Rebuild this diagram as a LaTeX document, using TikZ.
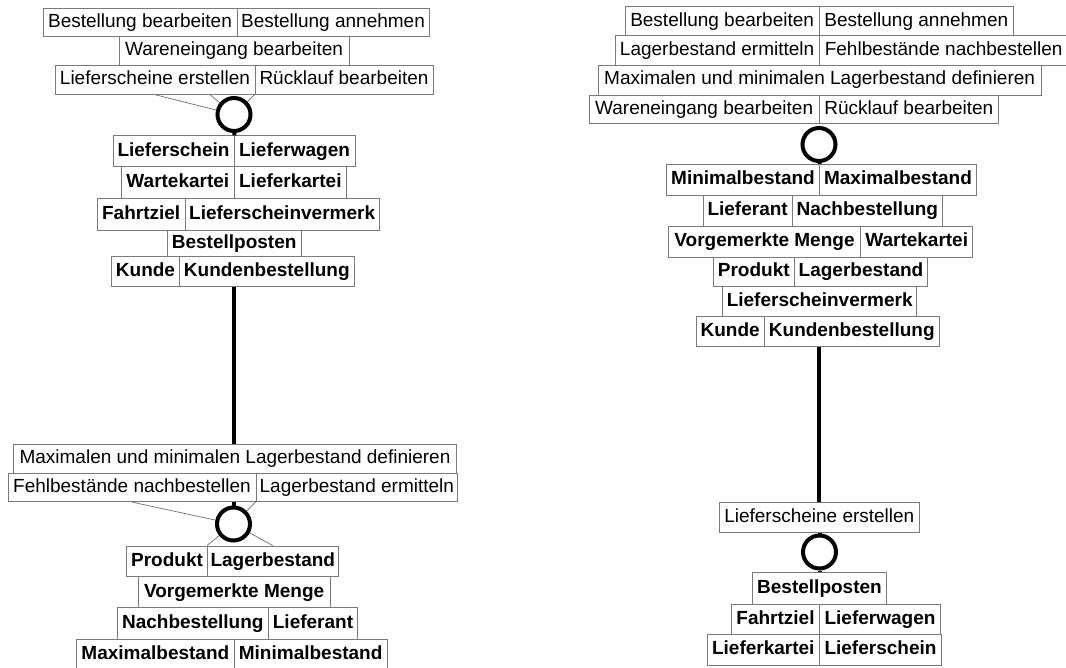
\documentclass[tikz,border=0pt]{standalone}
\usepackage{fontspec}
\setmainfont{Liberation Sans}
\usetikzlibrary{backgrounds}
\definecolor{frame}{HTML}{7A7A7A}
\definecolor{wire}{HTML}{6E6E6E}

% a box given by its left, right, top and bottom edge (y grows downward)
\newcommand{\cell}[7]{%
  \node[#1, minimum width={(#4)-(#3)}, minimum height={(#6)-(#5)}]
    (#2) at ({((#3)+(#4))/2},{((#5)+(#6))/2}) {#7};}

\begin{document}
\begin{tikzpicture}[x=1pt, y=-1pt,
    task/.style={draw=frame, fill=white, line width=0.8pt, inner sep=0pt,
      text height=14pt, text depth=4pt, font=\fontsize{19}{22}\selectfont},
    entity/.style={task, font=\fontsize{19}{22}\selectfont\bfseries},
    hub/.style={circle, draw, fill=white, line width=4pt, minimum size=33pt, inner sep=0pt},
    link/.style={line width=4pt},
    trace/.style={draw=wire, line width=0.7pt}]
  \useasboundingbox (0,0) rectangle (1066,668);

  % left column, upper part
  \cell{task}{tlBB}{43}{237}{8}{36.7}{Bestellung bearbeiten}
  \cell{task}{tlBA}{237}{429}{8}{36.7}{Bestellung annehmen}
  \cell{task}{tlWE}{119}{349}{36.7}{65.3}{Wareneingang bearbeiten}
  \cell{task}{tlLE}{55}{255}{65.3}{94.3}{Lieferscheine erstellen}
  \cell{task}{tlRL}{255}{433}{65.3}{94.3}{Rücklauf bearbeiten}
  \node[hub] (tlO) at (234,114.5) {};
  \cell{entity}{tlLS}{113}{234}{135.7}{166.7}{Lieferschein}
  \cell{entity}{tlLW}{234}{355}{135.7}{166.7}{Lieferwagen}
  \cell{entity}{tlWK}{121.7}{234}{166.7}{198.5}{Wartekartei}
  \cell{entity}{tlLK}{234}{346.7}{166.7}{198.5}{Lieferkartei}
  \cell{entity}{tlFZ}{97.3}{185}{198.5}{230}{Fahrtziel}
  \cell{entity}{tlLV}{185}{379.3}{198.5}{230}{Lieferscheinvermerk}
  \cell{entity}{tlBP}{167.3}{301}{230}{256.5}{Bestellposten}
  \cell{entity}{tlKU}{111.7}{179.3}{256.5}{286.5}{Kunde}
  \cell{entity}{tlKB}{179.3}{354.3}{256.5}{286.5}{Kundenbestellung}

  % left column, lower part
  \cell{task}{blMM}{13.3}{456.7}{444}{473.3}{Maximalen und minimalen Lagerbestand definieren}
  \cell{task}{blFN}{8}{256}{473.3}{501.7}{Fehlbestände nachbestellen}
  \cell{task}{blLE}{256}{457.7}{473.3}{501.7}{Lagerbestand ermitteln}
  \node[hub] (blO) at (233.5,524) {};
  \cell{entity}{blPR}{126.7}{207.3}{546}{576.7}{Produkt}
  \cell{entity}{blLB}{207.3}{338.3}{546}{576.7}{Lagerbestand}
  \cell{entity}{blVM}{138.3}{330}{576.7}{607.3}{Vorgemerkte Menge}
  \cell{entity}{blNB}{117.3}{268.3}{607.3}{639}{Nachbestellung}
  \cell{entity}{blLF}{268.3}{357.7}{607.3}{639}{Lieferant}
  \cell{entity}{blMX}{76.7}{234}{639}{670}{Maximalbestand}
  \cell{entity}{blMN}{234}{387.3}{639}{670}{Minimalbestand}

  % right column, upper part
  \cell{task}{rBB}{625}{819.3}{6.7}{35.7}{Bestellung bearbeiten}
  \cell{task}{rBA}{819.3}{1013.3}{6.7}{35.7}{Bestellung annehmen}
  \cell{task}{rLE}{615}{819.3}{35.7}{65}{Lagerbestand ermitteln}
  \cell{task}{rFN}{819.3}{1068}{35.7}{65}{Fehlbestände nachbestellen}
  \cell{task}{rMM}{598.3}{1041}{65}{95}{Maximalen und minimalen Lagerbestand definieren}
  \cell{task}{rWE}{589}{819.3}{95}{123.3}{Wareneingang bearbeiten}
  \cell{task}{rRL}{819.3}{998.3}{95}{123.3}{Rücklauf bearbeiten}
  \node[hub] (rO) at (819,144.5) {};
  \cell{entity}{rMI}{666.7}{819.3}{164.3}{195.7}{Minimalbestand}
  \cell{entity}{rMX}{819.3}{976.7}{164.3}{195.7}{Maximalbestand}
  \cell{entity}{rLF}{703.3}{792}{195.7}{226}{Lieferant}
  \cell{entity}{rNB}{792}{942.7}{195.7}{226}{Nachbestellung}
  \cell{entity}{rVM}{668.3}{860.7}{226}{257.3}{Vorgemerkte Menge}
  \cell{entity}{rWK}{860.7}{972.7}{226}{257.3}{Wartekartei}
  \cell{entity}{rPR}{713.3}{794.3}{257.3}{286}{Produkt}
  \cell{entity}{rLB}{794.3}{927.7}{257.3}{286}{Lagerbestand}
  \cell{entity}{rLV}{722.7}{916.7}{286}{316.7}{Lieferscheinvermerk}
  \cell{entity}{rKU}{696}{764.3}{316.7}{346.7}{Kunde}
  \cell{entity}{rKB}{764.3}{939.3}{316.7}{346.7}{Kundenbestellung}

  % right column, lower part
  \cell{task}{rLS}{719.3}{919.3}{502.7}{532.3}{Lieferscheine erstellen}
  \node[hub] (rP) at (819.5,552) {};
  \cell{entity}{rBP}{752.3}{886.7}{572.7}{604}{Bestellposten}
  \cell{entity}{rFZ}{731.7}{819.3}{604}{634.3}{Fahrtziel}
  \cell{entity}{rLW}{819.3}{940.7}{604}{634.3}{Lieferwagen}
  \cell{entity}{rLK}{707.3}{819.3}{634.3}{665}{Lieferkartei}
  \cell{entity}{rLC}{819.3}{941.7}{634.3}{665}{Lieferschein}

  % thin leads into the circles, kept behind the boxes
  \begin{scope}[on background layer]
    \draw[trace] (tlBB.south) -- (tlO.center);
    \draw[trace] (tlLE.south) -- (tlO.center);
    \draw[trace] (tlRL.south west) -- (tlO.center);
    \draw[trace] (blFN.south) -- (blO.center);
    \draw[trace] (blLE.south west) -- (blO.center);
    \draw[trace] (blLB.north west) -- (blO.center);
    \draw[trace] (blLB.north) -- (blO.center);
  \end{scope}

  % heavy links
  \draw[link] (tlO) -- (tlLS.north east);
  \draw[link] (tlKB.south -| tlO) -- (blMM.north -| tlO);
  \draw[link] (blFN.south east -| blO) -- (blO);
  \draw[link] (rO) -- (rMI.north east);
  \draw[link] (rKB.south -| rO) -- (rLS.north -| rO);
  \draw[link] (rLS.south -| rP) -- (rP);
  \draw[link] (rP) -- (rBP.north -| rP);
\end{tikzpicture}
\end{document}
